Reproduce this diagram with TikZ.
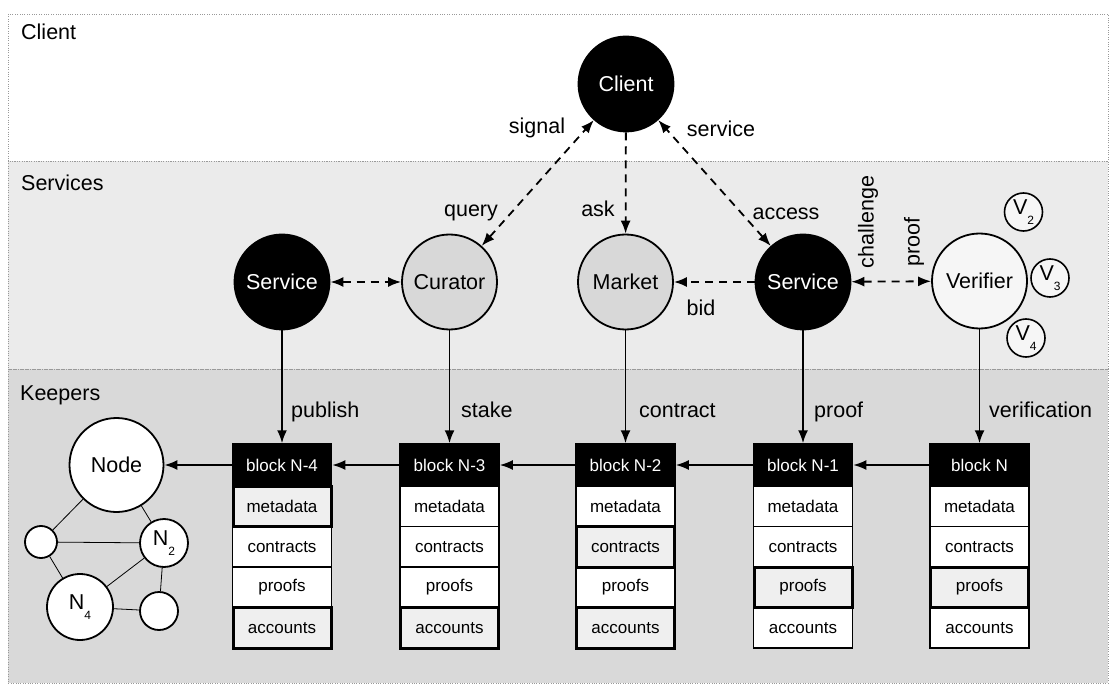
\documentclass[tikz,border=0pt]{standalone}
\usepackage{fontspec}
\setmainfont{Liberation Sans}
\usetikzlibrary{arrows.meta}
\definecolor{svcbg}{HTML}{EBEBEB}
\definecolor{keepbg}{HTML}{D9D9D9}
\definecolor{nodegray}{HTML}{D8D8D8}
\definecolor{verfill}{HTML}{F6F6F6}
\definecolor{hlfill}{HTML}{EFEFEF}
\newcommand\fbig{\fontsize{21.5}{24}\selectfont}
\newcommand\fsmall{\fontsize{17}{20}\selectfont}
\newcommand\fsub{\fontsize{12}{14}\selectfont}
\newcommand\blockcol[7]{%
  \node[blockhead] (#2) at (#1,465) {#3};
  \ifnum#4=0 \node[cell0] (#2m) at (#1,506.25) {metadata};\fi
  \ifnum#5=0 \node[cell0] (#2c) at (#1,546.75) {contracts};\fi
  \ifnum#6=0 \node[cell0] (#2p) at (#1,587.25) {proofs};\fi
  \ifnum#7=0 \node[cell0] (#2a) at (#1,627.75) {accounts};\fi
  \ifnum#4=1 \node[cell1] (#2m) at (#1,506.25) {metadata};\fi
  \ifnum#5=1 \node[cell1] (#2c) at (#1,546.75) {contracts};\fi
  \ifnum#6=1 \node[cell1] (#2p) at (#1,587.25) {proofs};\fi
  \ifnum#7=1 \node[cell1] (#2a) at (#1,627.75) {accounts};\fi
}
\tikzset{
  panel/.style={draw=gray!80, line width=0.8pt, dash pattern=on 0.8pt off 1.6pt},
  bignode/.style={circle, draw, line width=1.8pt, minimum size=95pt, inner sep=0pt, font=\fbig},
  blackn/.style={bignode, fill=black, text=white},
  grayn/.style={bignode, fill=nodegray},
  whiten/.style={bignode, fill=verfill},
  vnode/.style={circle, draw, line width=1.6pt, fill=verfill, minimum size=38pt, inner sep=0pt, font=\fbig},
  netnode/.style={circle, draw, line width=1.8pt, fill=white, inner sep=0pt, font=\fbig},
  netedge/.style={line width=0.8pt},
  dashtwo/.style={line width=1.8pt, dash pattern=on 8pt off 6pt, {Latex[length=13pt,width=10pt]}-{Latex[length=13pt,width=10pt]}},
  dashone/.style={line width=1.8pt, dash pattern=on 8pt off 6pt, -{Latex[length=13pt,width=10pt]}},
  solidarrow/.style={line width=1.8pt, -{Latex[length=13pt,width=10pt]}},
  lbl/.style={font=\fbig, inner sep=0pt, anchor=base},
  lblw/.style={font=\fbig, inner sep=0pt, anchor=base west},
  blockhead/.style={rectangle, draw, fill=black, text=white, line width=1.5pt, minimum width=99pt, minimum height=42pt, inner sep=0pt, font=\fsmall},
  cell0/.style={rectangle, draw, fill=white, line width=1.5pt, minimum width=99pt, minimum height=40.5pt, inner sep=0pt, font=\fsmall},
  cell1/.style={rectangle, draw, fill=hlfill, line width=3pt, minimum width=98pt, minimum height=40.5pt, inner sep=0pt, font=\fsmall},
}
\begin{document}
\begin{tikzpicture}[x=1pt,y=-1pt]
\useasboundingbox (0,0) rectangle (1118,700);
% panels
\fill[white] (8,14) rectangle (1108,161);
\fill[svcbg] (8,161) rectangle (1108,369);
\fill[keepbg] (8,369) rectangle (1108,683);
\draw[panel] (8,14) rectangle (1108,161);
\draw[panel] (8,161) rectangle (1108,369);
\draw[panel] (8,369) rectangle (1108,683);
\node[lblw] (tclient) at (21,40) {Client};
\node[lblw] (tservices) at (21,191) {Services};
\node[lblw] (tkeepers) at (20,400) {Keepers};

% main nodes
\node[blackn] (client) at (626,84) {Client};
\node[blackn] (svc1) at (282,282) {Service};
\node[grayn] (curator) at (449.5,282) {Curator};
\node[grayn] (market) at (625.5,282) {Market};
\node[blackn] (svc2) at (803,282) {Service};
\node[whiten] (verifier) at (979.5,281) {Verifier};
\node[vnode] (v2) at (1023.5,212) {V\raisebox{-0.45em}{\fsub 2}};
\node[vnode] (v3) at (1050,278) {V\raisebox{-0.45em}{\fsub 3}};
\node[vnode] (v4) at (1026,338) {V\raisebox{-0.45em}{\fsub 4}};

% dashed connectors
\draw[dashtwo] (curator) -- (client);
\draw[dashone] (client) -- (market);
\draw[dashtwo] (svc2) -- (client);
\draw[dashtwo] (svc1) -- (curator);
\draw[dashone] (svc2) -- (market);
\draw[dashtwo] (svc2) -- (verifier);

\node[lbl] (lsignal) at (537,134) {signal};
\node[lbl] (lservice) at (721,137) {service};
\node[lbl] (lquery) at (471,217) {query};
\node[lbl] (lask) at (598,217) {ask};
\node[lbl] (laccess) at (786,220) {access};
\node[lbl] (lbid) at (701,316) {bid};
\node[font=\fbig, inner sep=0pt, rotate=90] (lchal) at (868,222) {challenge};
\node[font=\fbig, inner sep=0pt, rotate=90] (lproof) at (914,242) {proof};

% blocks
\blockcol{282}{b4}{block N-4}{1}{0}{0}{1}
\blockcol{449.5}{b3}{block N-3}{0}{0}{0}{1}
\blockcol{625.5}{b2}{block N-2}{0}{1}{0}{1}
\blockcol{803}{b1}{block N-1}{0}{0}{1}{0}
\blockcol{979.5}{b0}{block N}{0}{0}{1}{0}

% vertical arrows
\draw[solidarrow] (svc1) -- (b4);
\draw[solidarrow] (curator) -- (b3);
\draw[solidarrow] (market) -- (b2);
\draw[solidarrow] (svc2) -- (b1);
\draw[solidarrow] (verifier) -- (b0);
\node[lblw] (lpublish) at (291,417) {publish};
\node[lblw] (lstake) at (461,417) {stake};
\node[lblw] (lcontract) at (639,417) {contract};
\node[lblw] (lproof2) at (814,417) {proof};
\node[lblw] (lverif) at (989,417) {verification};

% network
\node[netnode, minimum size=94pt] (node) at (116.5,465) {Node};
\node[netnode, minimum size=32pt] (s1) at (41,542) {};
\node[netnode, minimum size=48pt] (n2) at (164,543) {N\raisebox{-0.45em}{\fsub 2}};
\node[netnode, minimum size=66pt] (n4) at (80,607) {N\raisebox{-0.45em}{\fsub 4}};
\node[netnode, minimum size=38pt] (s2) at (159,611) {};
\draw[netedge] (node) -- (s1);
\draw[netedge] (node) -- (n2);
\draw[netedge] (s1) -- (n2);
\draw[netedge] (s1) -- (n4);
\draw[netedge] (n4) -- (n2);
\draw[netedge] (n4) -- (s2);
\draw[netedge] (n2) -- (s2);

% horizontal arrows
\draw[solidarrow] (b0) -- (b1);
\draw[solidarrow] (b1) -- (b2);
\draw[solidarrow] (b2) -- (b3);
\draw[solidarrow] (b3) -- (b4);
\draw[solidarrow] (b4) -- (node);
\end{tikzpicture}
\end{document}
